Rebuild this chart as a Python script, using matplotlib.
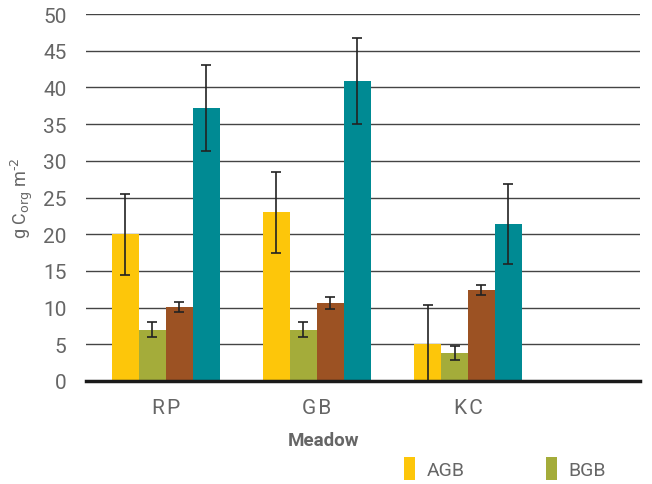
import numpy as np
import matplotlib.pyplot as plt

plt.rcParams['font.family'] = ['Roboto', 'DejaVu Sans']

meadows = ["R\u200aP", "G\u200aB", "K\u200aC", ""]
series = ["AGB", "BGB", "S3", "S4"]
agb = [20.0, 23.0, 5.0]
agb_err = [5.5, 5.5, 5.3]
bgb = [7.0, 7.0, 3.8]
bgb_err = [1.0, 1.0, 1.0]
s3 = [10.1, 10.6, 12.4]
s3_err = [0.7, 0.8, 0.65]
s4 = [37.2, 40.9, 21.4]
s4_err = [5.9, 5.9, 5.5]
colors = ["#FDC60A", "#A4AC3A", "#9C5223", "#008A93"]

fig = plt.figure(figsize=(6.52, 4.85), dpi=100)
ax = fig.add_axes([0.132, 0.2124, 0.85, 0.7566])

x = np.arange(3)
w = 0.178
handles = []
for i, (vals, errs) in enumerate([(agb, agb_err), (bgb, bgb_err), (s3, s3_err), (s4, s4_err)]):
    pos = x + (i - 1.5) * w
    b = ax.bar(pos, vals, w, color=colors[i], label=series[i], zorder=2)
    ax.errorbar(pos, vals, yerr=errs, fmt="none", ecolor="#222222",
                elinewidth=1.2, capsize=3.5, capthick=1.2, zorder=3)
    handles.append(b)

ax.set_ylim(0, 50)
ax.set_xlim(-0.527, 3.14)
ax.set_yticks(range(0, 51, 5))
ax.yaxis.grid(True, color="#444444", linewidth=1.0, zorder=0)
ax.set_axisbelow(True)
for s in ["left", "right", "top"]:
    ax.spines[s].set_visible(False)
ax.spines["bottom"].set_linewidth(2.5)
ax.spines["bottom"].set_color("#1a1a1a")
ax.spines["bottom"].set_zorder(4)
ax.tick_params(axis="y", length=0, pad=14, labelsize=15, labelcolor="#666666")
ax.tick_params(axis="x", length=0, pad=12, labelsize=15, labelcolor="#666666")
ax.set_xticks(np.arange(4))
ax.set_xticklabels(meadows)

ax.set_xlabel("Meadow", fontsize=13.5, fontweight="bold", color="#666666")
ax.xaxis.set_label_coords(0.429, -0.135)
ax.set_ylabel("g C$_{\\rm org}$ m$^{\\rm \u2010 2}$", fontsize=13, color="#666666")
ax.yaxis.set_label_coords(-0.092, 0.5)

fig.legend(handles[:2], series[:2], loc="center", bbox_to_anchor=(0.775, 0.032),
           ncol=2, frameon=False, handlelength=0.55, handleheight=1.4,
           handletextpad=0.6, columnspacing=4.2, fontsize=14,
           labelcolor="#666666")

fig.savefig("out.png", dpi=100)
